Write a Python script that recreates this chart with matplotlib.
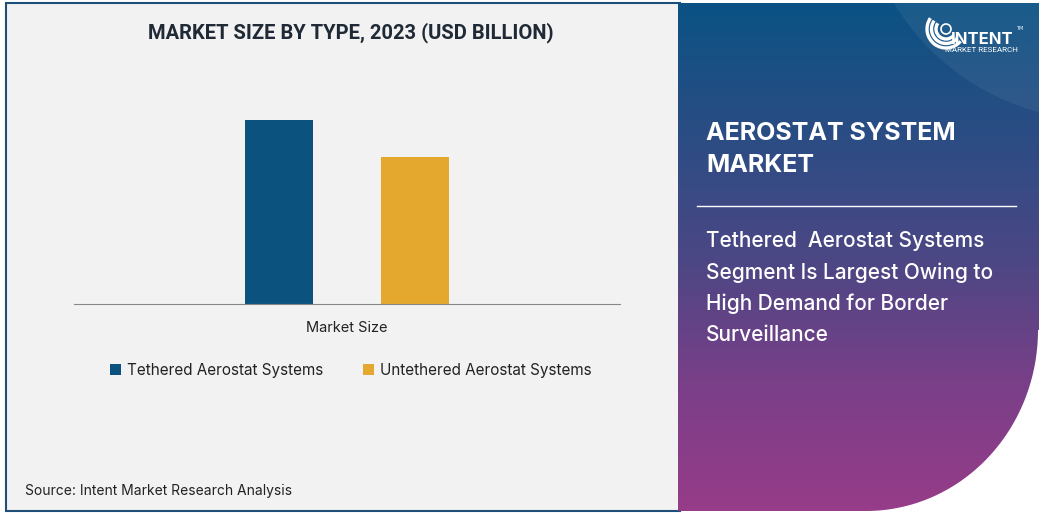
import numpy as np
import matplotlib
matplotlib.use("Agg")
import matplotlib.pyplot as plt
from matplotlib.patches import Rectangle, Arc, Circle, PathPatch
from matplotlib.path import Path
from matplotlib.colors import LinearSegmentedColormap

# 資料
categories = ["Market Size"]
series = ["Tethered Aerostat Systems", "Untethered Aerostat Systems"]
values = [5.0, 4.0]          # USD Billion（由圖上長條高度比估計）
colors = ["#0b527f", "#e4a82e"]

title = "MARKET SIZE BY TYPE, 2023 (USD BILLION)"
side_title = ["AEROSTAT SYSTEM", "MARKET"]
side_text = ["Tethered  Aerostat Systems", "Segment Is Largest Owing to",
             "High Demand for Border", "Surveillance"]
source = "Source: Intent Market Research Analysis"

W, H = 1043, 513
fig = plt.figure(figsize=(W / 100, H / 100), dpi=100)
fig.patch.set_facecolor("white")

# 背景層（像素座標）
bg = fig.add_axes([0, 0, 1, 1])
bg.set_xlim(0, W); bg.set_ylim(H, 0); bg.axis("off")
bg.add_patch(Rectangle((6, 3), 674, 508, facecolor="#f2f2f2", edgecolor="#1f4e79", lw=1.5))

# 右側漸層面板，右下角圓弧
cx, cy, ra, rb = 866, 330, 172, 181
th = np.linspace(0, np.pi / 2, 60)
arc_pts = [(cx + ra * np.cos(t), cy + rb * np.sin(t)) for t in th]
verts = [(678, 3), (1039, 3), (1039, cy)] + arc_pts + [(678, 511), (678, 3)]
clip = Path(verts, [Path.MOVETO] + [Path.LINETO] * (len(verts) - 2) + [Path.CLOSEPOLY])
cmap = LinearSegmentedColormap.from_list("g", ["#0b5283", "#2a4d84", "#4b4784", "#7a3f88", "#973c89"])
grad = np.linspace(0, 1, 256).reshape(-1, 1)
im = bg.imshow(grad, cmap=cmap, extent=[678, 1041, 512, 3], aspect="auto", zorder=1)
patch = PathPatch(clip, facecolor="none", edgecolor="none", transform=bg.transData)
bg.add_patch(patch)
im.set_clip_path(patch)
# 右上淡色圓
glow = Circle((1100, -120), 240, facecolor="white", alpha=0.06, edgecolor="none", zorder=2)
bg.add_patch(glow); glow.set_clip_path(patch)

# logo
lc = (946, 29)
for r in (10, 14.5, 19):
    bg.add_patch(Arc(lc, 2 * r, 2 * r, theta1=40, theta2=215, color="white", lw=2.4, zorder=3))
bg.add_patch(Circle(lc, 5, facecolor="none", edgecolor="white", lw=1.2, zorder=3))
bg.text(951, 39, "INTENT", color="white", fontsize=12, fontweight="bold", family="Inter",
        va="center", ha="left", zorder=4)
bg.text(945, 50, "MARKET RESEARCH", color="white", fontsize=5.8, family="Roboto",
        va="center", ha="left", zorder=4)
bg.text(1016, 29, "TM", color="white", fontsize=3.5, va="center", ha="left", zorder=4)

# 右側文字
for i, s in enumerate(side_title):
    bg.text(706, 134 + 32 * i, s, color="white", fontsize=18, fontweight="bold", family="Inter",
            va="center", ha="left", zorder=4)
bg.plot([697, 1016], [206, 206], color="white", lw=1, zorder=4)
for i, s in enumerate(side_text):
    bg.text(706, 241 + 31.3 * i, s, color="white", fontsize=15, fontweight=500, family="Inter",
            va="center", ha="left", zorder=4)

bg.text(351, 33, title, fontsize=14.5, fontweight="bold", family="Roboto", color="#1f2a36",
        ha="center", va="center")
bg.text(25, 491, source, fontsize=10, family="Inter", color="#222222", ha="left", va="center")

# 長條圖
top_px, base_px = 100, 304
ax = fig.add_axes([74 / W, 1 - base_px / H, (620 - 74) / W, (base_px - top_px) / H])
ax.patch.set_alpha(0)
bw = 68 / 546
x = np.arange(len(categories))
for i, (s, v, c) in enumerate(zip(series, values, colors)):
    ax.bar(x + (i - 0.5) * 2 * bw, [v], width=bw, color=c, label=s)
ax.set_xlim(-0.5, 0.5)
ax.set_ylim(0, max(values) * (base_px - top_px) / 184)
for sp in ["top", "right", "left"]:
    ax.spines[sp].set_visible(False)
ax.spines["bottom"].set_color("#888888")
ax.set_yticks([])
ax.set_xticks(x)
ax.set_xticklabels(categories, fontsize=10.5, family="Inter", color="#222222")
ax.tick_params(axis="x", length=0, pad=12)
ax.legend(loc="upper center", bbox_to_anchor=(0.507, -0.22), ncol=2, frameon=False,
          prop={"family": "Inter", "size": 11}, handlelength=0.7, handleheight=0.7,
          handletextpad=0.4, columnspacing=2.6, labelcolor="#222222")

fig.savefig("out.png", dpi=100)
